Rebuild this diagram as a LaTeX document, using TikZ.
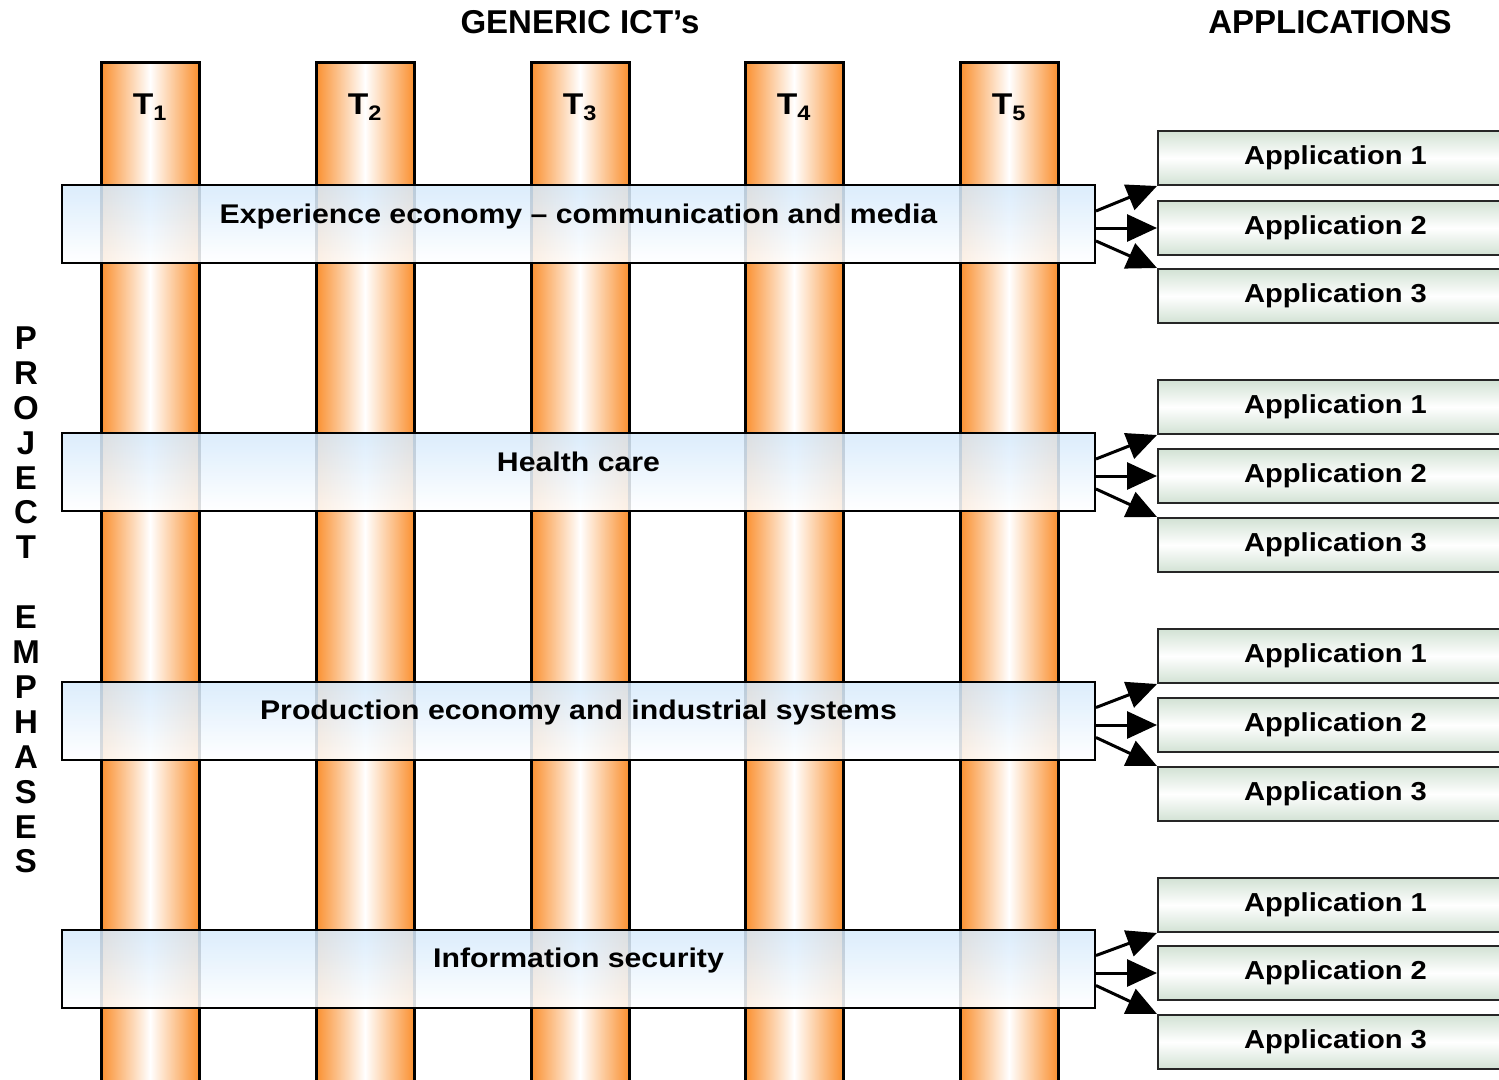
\documentclass[tikz,border=0pt]{standalone}
\usepackage{fontspec}
\setmainfont{Liberation Sans}
\newfontfamily\widesf[FakeStretch=1.12]{Liberation Sans}
\usepackage{tikz}
\usetikzlibrary{arrows.meta}

\definecolor{pillarorange}{RGB}{250,144,48}
\definecolor{bandblue}{RGB}{214,234,252}
\definecolor{appgreen}{RGB}{210,226,212}

\begin{document}
\begin{tikzpicture}[x=1pt,y=-1pt,
		pillar/.style={draw=black,line width=3pt,left color=pillarorange,right color=pillarorange,middle color=white,minimum width=98pt,minimum height=1040pt,anchor=north,inner sep=0pt},
		band/.style={draw=black,line width=2pt,top color=bandblue,bottom color=white,fill opacity=0.87,text opacity=1,minimum width=1033pt,minimum height=78pt,inner sep=0pt,text height=19pt,text depth=21pt,font=\widesf\bfseries\fontsize{27}{30}\selectfont},
		app/.style={draw=black!85,line width=2pt,top color=appgreen,bottom color=appgreen,middle color=white,minimum width=355pt,minimum height=54pt,anchor=north west,inner sep=0pt,font=\widesf\bfseries\fontsize{26}{28}\selectfont},
		head/.style={font=\bfseries\fontsize{33}{34.9}\selectfont,inner sep=0pt},
		tlabel/.style={font=\widesf\bfseries\fontsize{30}{32}\selectfont,inner sep=0pt},
		toarrow/.style={-{Triangle[length=30pt,width=27pt]},line width=3pt}]
	\useasboundingbox (0,0) rectangle (1499,1079);
	\node[pillar] (t1) at (150,61) {};
	\node[pillar] (t2) at (365,61) {};
	\node[pillar] (t3) at (580,61) {};
	\node[pillar] (t4) at (794,61) {};
	\node[pillar] (t5) at (1009,61) {};
	\node[tlabel] (t1l) at (150,107) {T\textsubscript{1}};
	\node[tlabel] (t2l) at (365,107) {T\textsubscript{2}};
	\node[tlabel] (t3l) at (580,107) {T\textsubscript{3}};
	\node[tlabel] (t4l) at (794,107) {T\textsubscript{4}};
	\node[tlabel] (t5l) at (1009,107) {T\textsubscript{5}};
	\node[band] (b1) at (578.5,224) {Experience economy – communication and media};
	\node[band] (b2) at (578.5,472) {Health care};
	\node[band] (b3) at (578.5,720.5) {Production economy and industrial systems};
	\node[band] (b4) at (578.5,968.5) {Information security};
	\node[app] (a11) at (1157,130) {Application 1};
	\node[app] (a12) at (1157,200) {Application 2};
	\node[app] (a13) at (1157,268) {Application 3};
	\node[app] (a21) at (1157,379) {Application 1};
	\node[app] (a22) at (1157,448) {Application 2};
	\node[app] (a23) at (1157,517) {Application 3};
	\node[app] (a31) at (1157,628) {Application 1};
	\node[app] (a32) at (1157,697) {Application 2};
	\node[app] (a33) at (1157,766) {Application 3};
	\node[app] (a41) at (1157,877) {Application 1};
	\node[app] (a42) at (1157,945) {Application 2};
	\node[app] (a43) at (1157,1014) {Application 3};
	\draw[toarrow] ([yshift=13pt]b1.east) -- (a11.south west);
	\draw[toarrow] (b1.east |- a12.west) -- (a12.west);
	\draw[toarrow] ([yshift=-17pt]b1.east) -- (a13.north west);
	\draw[toarrow] ([yshift=13pt]b2.east) -- (a21.south west);
	\draw[toarrow] (b2.east |- a22.west) -- (a22.west);
	\draw[toarrow] ([yshift=-17pt]b2.east) -- (a23.north west);
	\draw[toarrow] ([yshift=13pt]b3.east) -- (a31.south west);
	\draw[toarrow] (b3.east |- a32.west) -- (a32.west);
	\draw[toarrow] ([yshift=-17pt]b3.east) -- (a33.north west);
	\draw[toarrow] ([yshift=13pt]b4.east) -- (a41.south west);
	\draw[toarrow] (b4.east |- a42.west) -- (a42.west);
	\draw[toarrow] ([yshift=-17pt]b4.east) -- (a43.north west);
	\node[head] (ict) at (580,22) {GENERIC ICT’s};
	\node[head] (apps) at (1330,22) {APPLICATIONS};
	\node[head,align=center] (pe) at (26,600) {P\\R\\O\\J\\E\\C\\T\\[34.9pt]E\\M\\P\\H\\A\\S\\E\\S};
\end{tikzpicture}
\end{document}
